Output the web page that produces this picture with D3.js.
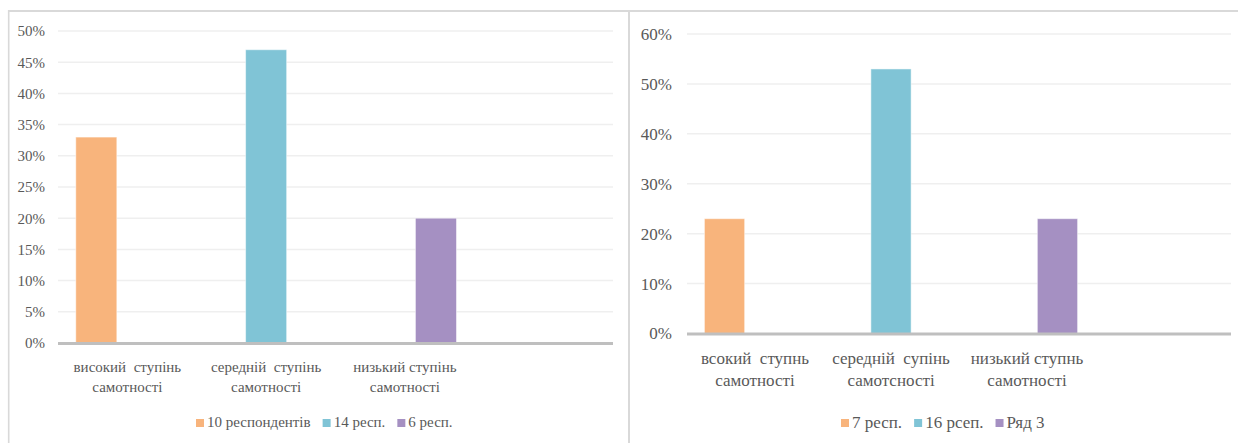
<!DOCTYPE html>
<html>
<head>
<meta charset="utf-8">
<script src="https://cdn.jsdelivr.net/npm/d3@7/dist/d3.min.js"></script>
<style>
  html, body { margin: 0; padding: 0; background: #fff; }
  svg { display: block; }
</style>
</head>
<body>
<svg id="chart" width="1238" height="443"></svg>
<script>
// ---- data ----
const categoriesA = [["високий  ступінь", "самотності"], ["середній  ступінь", "самотності"], ["низький ступінь", "самотності"], [""]];
const seriesNamesA = ["10 респондентів", "14 респ.", "6 респ."];
const seriesValuesA = [
  [33, null, null, null],
  [null, 47, null, null],
  [null, null, 20, null]
];
const ticksA = [0, 5, 10, 15, 20, 25, 30, 35, 40, 45, 50];

const categoriesB = [["всокий  ступнь", "самотності"], ["середній  супінь", "самотсності"], ["низький ступнь", "самотності"], [""]];
const seriesNamesB = ["7 респ.", "16 рсеп.", "Ряд 3"];
const seriesValuesB = [
  [23, null, null, null],
  [null, 53, null, null],
  [null, null, 23, null]
];
const ticksB = [0, 10, 20, 30, 40, 50, 60];

const colors = ["#f8b47c", "#80c4d6", "#a590c2"];
const FONT = "Liberation Serif";
const TEXT_COLOR = "#595959";

const svg = d3.select("#chart");

// panel frames
const frame = svg.append("g").attr("stroke", "#d9d9d9").attr("fill", "none");
frame.append("line").attr("x1", 8).attr("x2", 1238).attr("y1", 11).attr("y2", 11).attr("stroke-width", 2);
frame.append("line").attr("x1", 8.7).attr("x2", 8.7).attr("y1", 10).attr("y2", 443).attr("stroke-width", 1.6);
frame.append("line").attr("x1", 629).attr("x2", 629).attr("y1", 10).attr("y2", 443).attr("stroke-width", 2);

function styleText(sel, size) {
  sel.attr("font-family", FONT).attr("font-size", size).attr("fill", TEXT_COLOR);
}

function drawPanel(cfg) {
  const g = svg.append("g");
  const x = d3.scaleBand().domain(d3.range(cfg.categories.length)).range([cfg.x0, cfg.x1]);
  const y = d3.scaleLinear().domain([0, d3.max(cfg.ticks)]).range([cfg.yBase, cfg.yTop]);

  // gridlines
  g.append("g").selectAll("line").data(cfg.ticks.filter(t => t > 0)).join("line")
    .attr("x1", cfg.x0).attr("x2", cfg.x1)
    .attr("y1", d => y(d)).attr("y2", d => y(d))
    .attr("stroke", "#efefef").attr("stroke-width", 1.5);

  // y axis labels
  const yAxis = d3.axisLeft(y).tickValues(cfg.ticks).tickFormat(d => d + "%").tickSize(0).tickPadding(0);
  const ya = g.append("g").attr("transform", `translate(${cfg.labelX},0)`).call(yAxis);
  ya.attr("font-family", FONT);
  ya.select(".domain").remove();
  styleText(ya.selectAll("text"), cfg.fontSize);

  // bars
  const bw = x.bandwidth() * 0.296;
  const step = x.bandwidth() * 0.224;
  cfg.values.forEach((vals, si) => {
    g.append("g").selectAll("rect")
      .data(vals.map((v, ci) => ({ v, ci })).filter(d => d.v != null))
      .join("rect")
      .attr("x", d => x(d.ci) + x.bandwidth() / 2 + (si - 1) * step - bw / 2)
      .attr("width", bw)
      .attr("y", d => y(d.v))
      .attr("height", d => y(0) - y(d.v))
      .attr("fill", colors[si])
      .attr("stroke", "#fff").attr("stroke-opacity", 0.5).attr("stroke-width", 1);
  });

  // x axis line
  g.append("line").attr("x1", cfg.x0).attr("x2", cfg.x1)
    .attr("y1", y(0) + 0.5).attr("y2", y(0) + 0.5)
    .attr("stroke", "#bfbfbf").attr("stroke-width", 3);

  // category labels
  const cl = g.append("g").selectAll("text").data(cfg.categories).join("text")
    .attr("text-anchor", "middle")
    .attr("x", (d, i) => x(i) + x.bandwidth() / 2)
    .attr("xml:space", "preserve")
    .style("white-space", "pre");
  styleText(cl, cfg.fontSize);
  cl.selectAll("tspan").data(d => d).join("tspan")
    .attr("x", function () { return this.parentNode.getAttribute("x"); })
    .attr("y", (d, i) => cfg.catY + i * cfg.catLine)
    .attr("dy", "0.35em")
    .text(d => d);

  // legend
  let lx = cfg.legendX;
  const sq = cfg.legendSq;
  cfg.names.forEach((name, i) => {
    g.append("rect").attr("x", lx).attr("y", cfg.legendY - sq / 2 + 1)
      .attr("width", sq).attr("height", sq).attr("fill", colors[i]);
    const t = g.append("text").attr("x", lx + sq + 3).attr("y", cfg.legendY).attr("dy", "0.35em").text(name);
    styleText(t, cfg.fontSize);
    lx += sq + 3 + t.node().getComputedTextLength() + cfg.legendGap;
  });
}

drawPanel({
  categories: categoriesA, names: seriesNamesA, values: seriesValuesA, ticks: ticksA,
  x0: 58, x1: 613, yBase: 343, yTop: 31, labelX: 45, fontSize: 15,
  catY: 367, catLine: 20, legendX: 196, legendY: 422, legendSq: 8, legendGap: 12
});

drawPanel({
  categories: categoriesB, names: seriesNamesB, values: seriesValuesB, ticks: ticksB,
  x0: 687, x1: 1231, yBase: 333.5, yTop: 34, labelX: 672, fontSize: 17,
  catY: 358, catLine: 22, legendX: 841, legendY: 422, legendSq: 8, legendGap: 12
});
</script>
</body>
</html>
